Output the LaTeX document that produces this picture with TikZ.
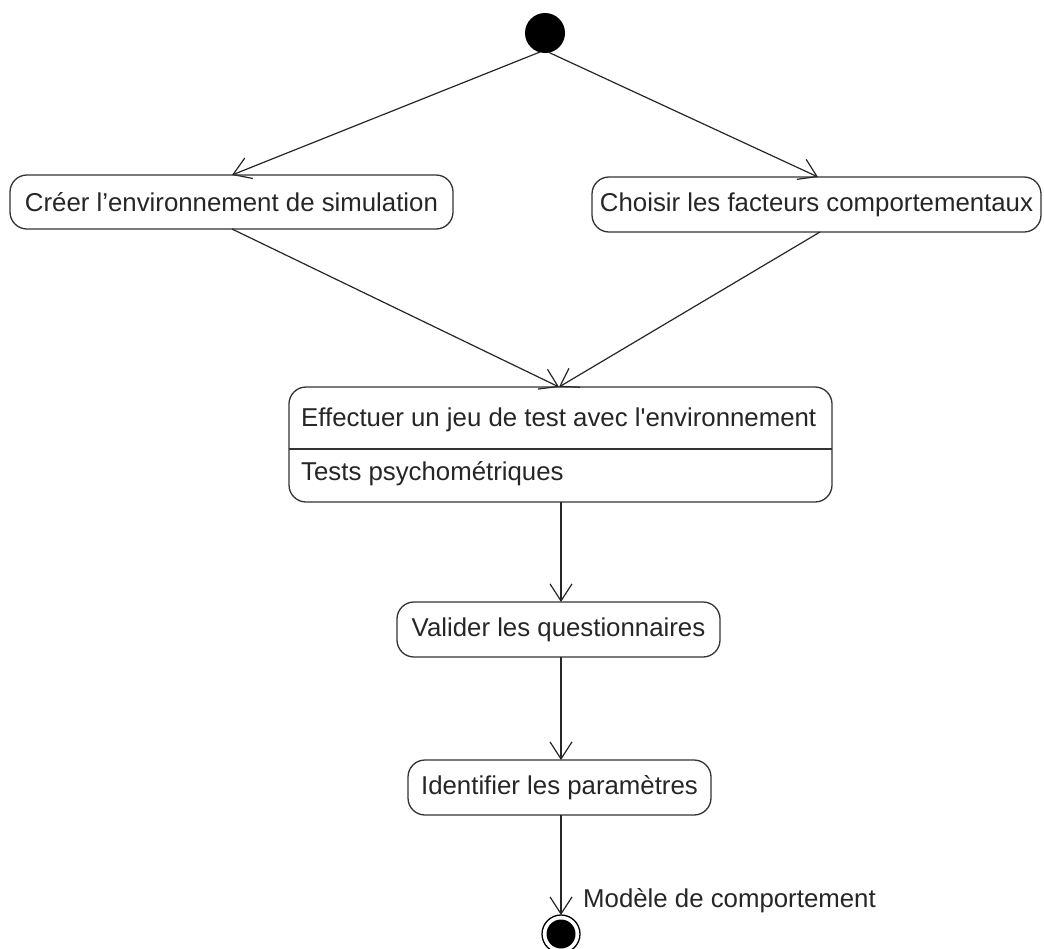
\documentclass[tikz,border=0pt]{standalone}
\usepackage{fontspec}
\setmainfont{Liberation Sans}
\usetikzlibrary{arrows.meta}
\begin{document}
\begin{tikzpicture}[x=1pt,y=-1pt,
  act/.style={draw=black!80, line width=1.3pt, rounded corners=17pt, fill=white, inner sep=0pt, font=\fontsize{25.8}{30}\selectfont, text=black!85},
  flow/.style={draw=black!85, line width=1.2pt, -{Straight Barb[length=17pt,width=22pt,line width=1.2pt]}},
  lbl/.style={font=\fontsize{25.8}{30}\selectfont, text=black!85, inner sep=0pt}]
\useasboundingbox (0,0) rectangle (1044,948);
\fill[white] (0,0) rectangle (1044,948);
% start
\node[circle, fill=black, minimum size=40pt, inner sep=0pt] (start) at (545,33) {};
% activities
\node[act, minimum width=443pt, minimum height=54pt] (a1) at (231.5,202) {Créer l’environnement de simulation};
\node[act, minimum width=449pt, minimum height=55pt] (a2) at (816.5,204.5) {Choisir les facteurs comportementaux};
\node[act, minimum width=543pt, minimum height=115pt] (a3) at (560.5,444.5) {};
\coordinate (d1) at (289,449);
\coordinate (d2) at (832,449);
\draw[draw=black!80, line width=1.3pt] (d1) -- (d2);
\node[lbl, anchor=west] (t3a) at (301,420) {Effectuer un jeu de test avec l\textquotesingle environnement};
\node[lbl, anchor=west] (t3b) at (301,474) {Tests psychométriques};
\node[act, minimum width=323pt, minimum height=55pt] (a4) at (558.5,629.5) {Valider les questionnaires};
\node[act, minimum width=303pt, minimum height=55pt] (a5) at (559.5,787.5) {Identifier les paramètres};
% end
\node[circle, draw=black, line width=1.3pt, fill=white, minimum size=38pt, inner sep=0pt] (endo) at (561,934) {};
\node[circle, fill=black, minimum size=29pt, inner sep=0pt] (endi) at (561,934) {};
\node[lbl, anchor=west] (endl) at (583,901) {Modèle de comportement};
% connection points
\coordinate (s1) at (540,52);
\coordinate (s2) at (548,52);
\coordinate (a1t) at (232,175);
\coordinate (a2t) at (818,177);
\coordinate (a1b) at (232,229);
\coordinate (a2b) at (820,232);
\coordinate (a3t) at (559,387);
\coordinate (a3b) at (561,502);
\coordinate (a4t) at (561,602);
\coordinate (a4b) at (561,657);
\coordinate (a5t) at (561,760);
\coordinate (a5b) at (561,815);
\coordinate (et) at (561,915);
\draw[flow] (s1) -- (a1t);
\draw[flow] (s2) -- (a2t);
\draw[flow] (a1b) -- (a3t);
\draw[flow] (a2b) -- (a3t);
\draw[flow] (a3b) -- (a4t);
\draw[flow] (a4b) -- (a5t);
\draw[flow] (a5b) -- (et);
\end{tikzpicture}
\end{document}
